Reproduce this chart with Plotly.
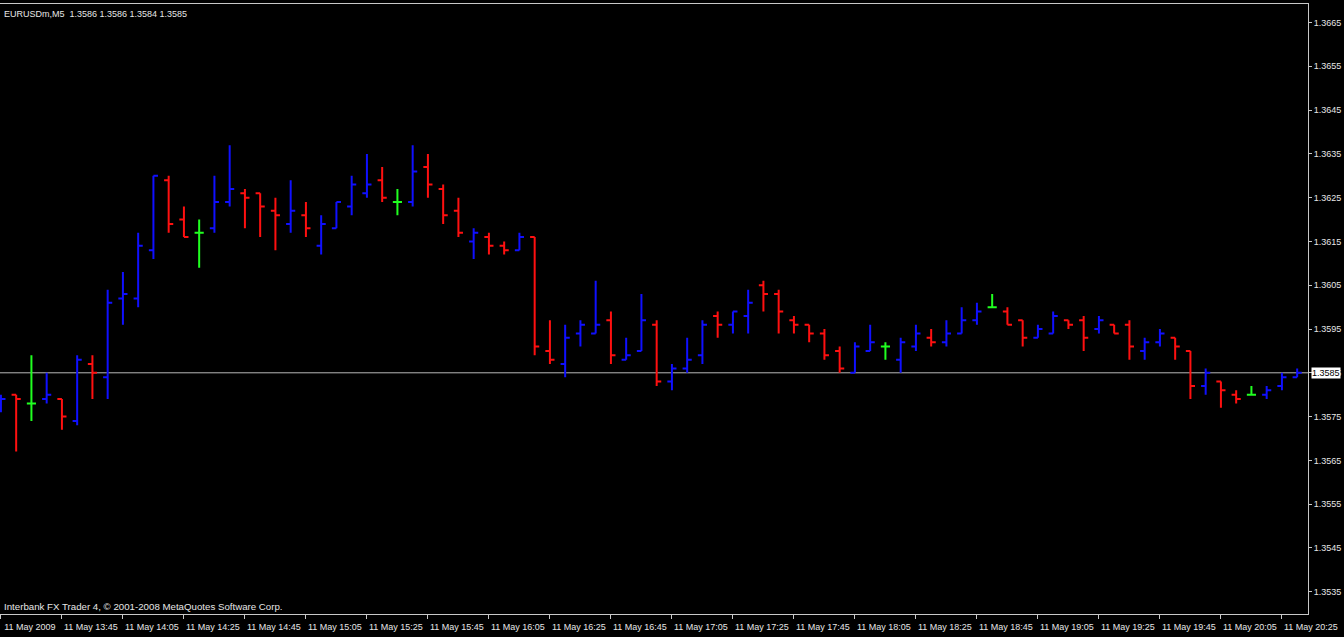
import plotly.graph_objects as go
import pandas as pd

# ---------------- data ----------------
symbol_title = "EURUSDm,M5  1.3586 1.3586 1.3584 1.3585"
footer_text = "Interbank FX Trader 4, © 2001-2008 MetaQuotes Software Corp."
start_time = "2009-05-11 13:25"

opens = [1.3577, 1.3580, 1.3578, 1.3579, 1.3579, 1.3574, 1.3587, 1.3584, 1.3602, 1.3602,
         1.3613, 1.3629, 1.3620, 1.3617, 1.3618, 1.3624, 1.3626, 1.3626, 1.3622, 1.3619,
         1.3621, 1.3614, 1.3618, 1.3623, 1.3626, 1.3629, 1.3624, 1.3624, 1.3632, 1.3627,
         1.3622, 1.3615, 1.3616, 1.3614, 1.3613, 1.3616, 1.3590, 1.3587, 1.3594, 1.3594,
         1.3597, 1.3588, 1.3590, 1.3596, 1.3583, 1.3586, 1.3589, 1.3598, 1.3596, 1.3598,
         1.3605, 1.3603, 1.3597, 1.3596, 1.3594, 1.3590, 1.3585, 1.3590, 1.3591, 1.3588,
         1.3591, 1.3593, 1.3592, 1.3594, 1.3597, 1.3600, 1.3599, 1.3597, 1.3593, 1.3594,
         1.3597, 1.3597, 1.3595, 1.3596, 1.3596, 1.3590, 1.3592, 1.3593, 1.3590, 1.3582,
         1.3583, 1.3580, 1.3580, 1.3580, 1.3582, 1.3584]
highs = [1.3580, 1.3580, 1.3589, 1.3585, 1.3579, 1.3589, 1.3589, 1.3604, 1.3608, 1.3617,
         1.3630, 1.3630, 1.3623, 1.3620, 1.3630, 1.3637, 1.3627, 1.3626, 1.3625, 1.3629,
         1.3624, 1.3621, 1.3624, 1.3630, 1.3635, 1.3632, 1.3627, 1.3637, 1.3635, 1.3628,
         1.3625, 1.3618, 1.3617, 1.3615, 1.3617, 1.3616, 1.3597, 1.3596, 1.3597, 1.3606,
         1.3599, 1.3593, 1.3603, 1.3597, 1.3587, 1.3593, 1.3597, 1.3599, 1.3599, 1.3604,
         1.3606, 1.3604, 1.3598, 1.3596, 1.3595, 1.3591, 1.3592, 1.3596, 1.3592, 1.3593,
         1.3596, 1.3595, 1.3597, 1.3600, 1.3601, 1.3603, 1.3600, 1.3597, 1.3596, 1.3599,
         1.3597, 1.3598, 1.3598, 1.3596, 1.3597, 1.3593, 1.3595, 1.3593, 1.3590, 1.3586,
         1.3583, 1.3581, 1.3582, 1.3582, 1.3585, 1.3586]
lows = [1.3576, 1.3567, 1.3574, 1.3578, 1.3572, 1.3573, 1.3579, 1.3579, 1.3596, 1.3600,
        1.3611, 1.3617, 1.3616, 1.3609, 1.3617, 1.3623, 1.3618, 1.3616, 1.3613, 1.3617,
        1.3616, 1.3612, 1.3618, 1.3621, 1.3625, 1.3624, 1.3621, 1.3623, 1.3625, 1.3619,
        1.3616, 1.3611, 1.3612, 1.3612, 1.3613, 1.3589, 1.3587, 1.3584, 1.3591, 1.3594,
        1.3587, 1.3588, 1.3590, 1.3582, 1.3581, 1.3585, 1.3587, 1.3593, 1.3594, 1.3594,
        1.3599, 1.3594, 1.3594, 1.3592, 1.3588, 1.3585, 1.3585, 1.3590, 1.3588, 1.3585,
        1.3590, 1.3591, 1.3591, 1.3594, 1.3596, 1.3600, 1.3596, 1.3591, 1.3593, 1.3594,
        1.3595, 1.3590, 1.3594, 1.3594, 1.3588, 1.3588, 1.3591, 1.3588, 1.3579, 1.3580,
        1.3577, 1.3578, 1.3580, 1.3579, 1.3581, 1.3584]
closes = [1.3579, 1.3579, 1.3578, 1.3580, 1.3575, 1.3588, 1.3585, 1.3601, 1.3603, 1.3614,
          1.3630, 1.3619, 1.3616, 1.3617, 1.3624, 1.3627, 1.3625, 1.3623, 1.3621, 1.3622,
          1.3618, 1.3619, 1.3624, 1.3628, 1.3628, 1.3625, 1.3624, 1.3631, 1.3628, 1.3621,
          1.3617, 1.3617, 1.3614, 1.3613, 1.3616, 1.3591, 1.3588, 1.3593, 1.3596, 1.3596,
          1.3589, 1.3589, 1.3597, 1.3583, 1.3586, 1.3588, 1.3596, 1.3596, 1.3599, 1.3601,
          1.3603, 1.3599, 1.3596, 1.3594, 1.3589, 1.3586, 1.3591, 1.3592, 1.3591, 1.3592,
          1.3594, 1.3592, 1.3594, 1.3597, 1.3599, 1.3600, 1.3596, 1.3593, 1.3595, 1.3598,
          1.3596, 1.3593, 1.3597, 1.3594, 1.3591, 1.3592, 1.3594, 1.3591, 1.3582, 1.3585,
          1.3581, 1.3579, 1.3580, 1.3581, 1.3584, 1.3585]

x_tick_times = ["2009-05-11 13:25", "2009-05-11 13:45", "2009-05-11 14:05", "2009-05-11 14:25",
                "2009-05-11 14:45", "2009-05-11 15:05", "2009-05-11 15:25", "2009-05-11 15:45",
                "2009-05-11 16:05", "2009-05-11 16:25", "2009-05-11 16:45", "2009-05-11 17:05",
                "2009-05-11 17:25", "2009-05-11 17:45", "2009-05-11 18:05", "2009-05-11 18:25",
                "2009-05-11 18:45", "2009-05-11 19:05", "2009-05-11 19:25", "2009-05-11 19:45",
                "2009-05-11 20:05", "2009-05-11 20:25"]
x_tick_labels = ["11 May 2009", "11 May 13:45", "11 May 14:05", "11 May 14:25",
                 "11 May 14:45", "11 May 15:05", "11 May 15:25", "11 May 15:45",
                 "11 May 16:05", "11 May 16:25", "11 May 16:45", "11 May 17:05",
                 "11 May 17:25", "11 May 17:45", "11 May 18:05", "11 May 18:25",
                 "11 May 18:45", "11 May 19:05", "11 May 19:25", "11 May 19:45",
                 "11 May 20:05", "11 May 20:25"]
y_tick_values = [1.3535, 1.3545, 1.3555, 1.3565, 1.3575, 1.3585, 1.3595,
                 1.3605, 1.3615, 1.3625, 1.3635, 1.3645, 1.3655, 1.3665]
y_tick_labels = ["1.3535", "1.3545", "1.3555", "1.3565", "1.3575", "1.3585", "1.3595",
                 "1.3605", "1.3615", "1.3625", "1.3635", "1.3645", "1.3655", "1.3665"]
bid_price = 1.3585

# ---------------- styling ----------------
UP_COLOR = "#1010ff"
DOWN_COLOR = "#ff1010"
DOJI_COLOR = "#20ff20"
FRAME = "#c8c8c8"
TEXT = "#e6e6e6"
FONT = "Liberation Sans"

times = pd.date_range(start_time, periods=len(opens), freq="5min")
step = pd.Timedelta(minutes=5)


def subset(cond):
    idx = [i for i in range(len(opens)) if cond(round(opens[i], 4), round(closes[i], 4))]
    return ([times[i] for i in idx], [opens[i] for i in idx], [highs[i] for i in idx],
            [lows[i] for i in idx], [closes[i] for i in idx])


fig = go.Figure()
for cond, col in [(lambda o, c: c > o, UP_COLOR),
                  (lambda o, c: c < o, DOWN_COLOR),
                  (lambda o, c: c == o, DOJI_COLOR)]:
    xs, os_, hs, ls, cs = subset(cond)
    fig.add_trace(go.Ohlc(
        x=xs, open=os_, high=hs, low=ls, close=cs,
        increasing=dict(line=dict(color=col, width=2)),
        decreasing=dict(line=dict(color=col, width=2)),
        tickwidth=0.3, hoverinfo="skip", showlegend=False,
    ))

x_start = times[0] - step * 0.06
x_end = times[0] + step * 85.71

fig.add_shape(type="line", xref="paper", x0=0, x1=1, yref="y", y0=bid_price, y1=bid_price,
              line=dict(color="#b8b8b8", width=1), layer="below")

fig.add_annotation(xref="paper", yref="y", x=1, y=bid_price, xanchor="left", yanchor="middle",
                   xshift=3, text=f"{bid_price:.4f}", showarrow=False,
                   bgcolor="white", borderpad=0,
                   font=dict(family=FONT, size=9, color="black"))

fig.add_annotation(xref="paper", yref="paper", x=0, y=1, xanchor="left", yanchor="top",
                   xshift=2, yshift=-3, text=symbol_title, showarrow=False,
                   font=dict(family=FONT, size=9, color=TEXT))

fig.add_annotation(xref="paper", yref="paper", x=0, y=0, xanchor="left", yanchor="bottom",
                   xshift=2, yshift=0, text=footer_text, showarrow=False,
                   font=dict(family=FONT, size=9.7, color=TEXT))

fig.update_layout(
    width=1344, height=637,
    margin=dict(l=0, r=36, t=4, b=23),
    paper_bgcolor="black", plot_bgcolor="black",
    font=dict(family=FONT, size=9, color=TEXT),
    xaxis=dict(
        type="date", range=[x_start, x_end],
        rangeslider=dict(visible=False),
        showgrid=False, zeroline=False,
        showline=True, linecolor=FRAME, linewidth=1, mirror=True,
        ticks="outside", ticklen=4, tickcolor=FRAME, tickwidth=1,
        tickmode="array", tickvals=x_tick_times, ticktext=x_tick_labels,
        tickfont=dict(family=FONT, size=9, color=TEXT),
        ticklabelshift=29, ticklabelstandoff=0,
    ),
    yaxis=dict(
        side="right", range=[1.352991, 1.366924],
        showgrid=False, zeroline=False,
        showline=True, linecolor=FRAME, linewidth=1, mirror=False,
        ticks="outside", ticklen=3, tickcolor=FRAME, tickwidth=1,
        tickmode="array", tickvals=y_tick_values, ticktext=y_tick_labels,
        tickfont=dict(family=FONT, size=9, color=TEXT),
    ),
)

fig.write_html(
    "out.html",
    config={"displayModeBar": False},
    post_script="document.body.style.margin='0';document.body.style.background='black';",
)
